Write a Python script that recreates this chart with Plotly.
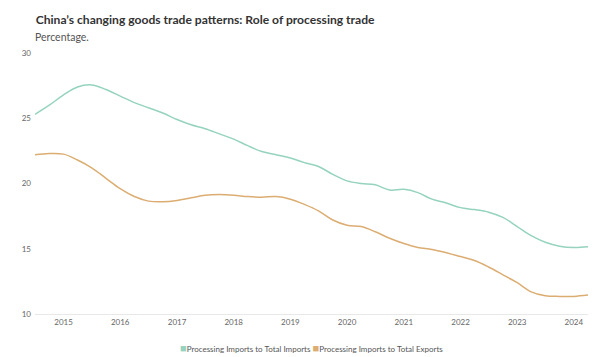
import plotly.graph_objects as go
import pandas as pd

quarters = pd.date_range("2014-07-01", "2024-04-01", freq="QS").strftime("%Y-%m-%d").tolist()

imports_to_imports = [
    25.3, 26.0, 26.8, 27.4, 27.55, 27.2, 26.7, 26.2, 25.8, 25.4,
    24.9, 24.5, 24.2, 23.8, 23.4, 22.9, 22.45, 22.2, 21.95, 21.6,
    21.3, 20.7, 20.2, 20.0, 19.9, 19.5, 19.55, 19.3, 18.8, 18.5,
    18.15, 18.0, 17.8, 17.4, 16.7, 16.0, 15.5, 15.2, 15.1, 15.15,
]
imports_to_exports = [
    22.2, 22.3, 22.25, 21.8, 21.2, 20.4, 19.6, 19.0, 18.65, 18.6,
    18.7, 18.9, 19.1, 19.15, 19.1, 19.0, 18.95, 19.0, 18.8, 18.4,
    17.9, 17.2, 16.8, 16.7, 16.3, 15.8, 15.4, 15.1, 14.95, 14.7,
    14.4, 14.1, 13.6, 13.0, 12.4, 11.7, 11.4, 11.35, 11.35, 11.45,
]
series_names = ["Processing Imports to Total Imports", "Processing Imports to Total Exports"]
colors = ["#95d3bf", "#dcad72"]
year_ticks = [f"{y}-01-01" for y in range(2015, 2025)]
year_labels = [str(y) for y in range(2015, 2025)]
y_ticks = [10, 15, 20, 25, 30]

fig = go.Figure()
for name, vals, c in zip(series_names, [imports_to_imports, imports_to_exports], colors):
    fig.add_trace(go.Scatter(x=quarters, y=vals, mode="lines", name=name,
                             line=dict(color=c, width=1.5, shape="spline", smoothing=1.0),
                             showlegend=False, hoverinfo="x+y"))

legend_text = "".join(
    f'<span style="color:{c};font-size:11px">■</span>{n} ' for n, c in zip(series_names, colors)
).strip()

fig.update_layout(
    width=605, height=357,
    paper_bgcolor="white", plot_bgcolor="white",
    margin=dict(l=35, r=17, t=53, b=43, autoexpand=False),
    font=dict(family="Lato, 'Open Sans', sans-serif", color="#666"),
    title=dict(text="<b>China’s changing goods trade patterns: Role of processing trade</b>",
               xref="container", x=0.059, xanchor="left",
               yref="container", y=1 - 20 / 357, yanchor="middle",
               font=dict(size=12.1, color="#333")),
    annotations=[
        dict(text="Percentage.", xref="paper", yref="paper", x=-0.004, y=1 + 16 / 261,
             xanchor="left", yanchor="middle", showarrow=False,
             font=dict(size=10.5, color="#555")),
        dict(text=legend_text, xref="paper", yref="paper", x=0.5, y=-33 / 261,
             xanchor="center", yanchor="middle", showarrow=False,
             font=dict(size=8, color="#555")),
    ],
    showlegend=False,
)
fig.update_xaxes(type="date", range=[quarters[0], quarters[-1]], tickvals=year_ticks, ticktext=year_labels,
                 showgrid=False, zeroline=False, showline=True, linecolor="#e8e8e8", linewidth=1,
                 tickfont=dict(size=8, color="#666"), ticks="", automargin=False)
fig.update_yaxes(range=[10, 30], tickvals=y_ticks, showgrid=False, zeroline=False,
                 tickfont=dict(size=8, color="#666"), ticks="", ticklabelstandoff=3, automargin=False)

fig.write_html("out.html", config={"displayModeBar": False},
               post_script="document.body.style.margin='0';")
